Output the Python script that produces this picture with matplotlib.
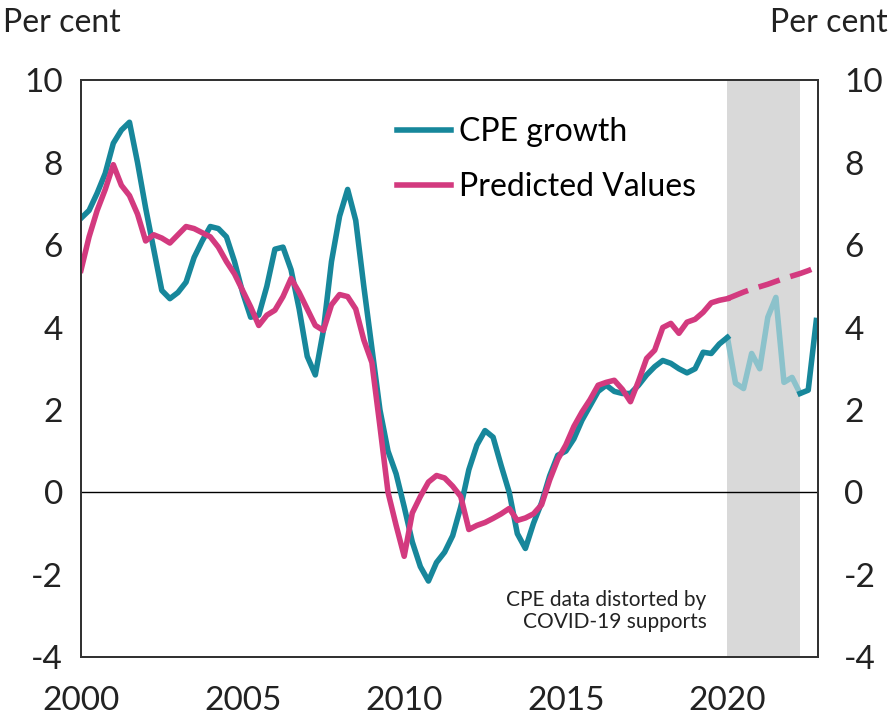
import matplotlib
matplotlib.use("Agg")
import matplotlib.pyplot as plt
import numpy as np

plt.rcParams['font.family'] = ['Lato', 'DejaVu Sans']

start_year = 2000.0
# Quarterly CPE growth, 2000Q1 .. 2022Q4 (per cent)
cpe_growth = [
    6.65, 6.84, 7.26, 7.74, 8.47, 8.79, 8.98, 8.0,
    6.9, 5.9, 4.9, 4.7, 4.85, 5.1, 5.7, 6.1,
    6.45, 6.4, 6.2, 5.6, 4.85, 4.25, 4.3, 5.0,
    5.9, 5.95, 5.4, 4.45, 3.3, 2.85, 3.93, 5.6,
    6.7, 7.35, 6.6, 5.0, 3.5, 2.0, 1.0, 0.45,
    -0.35, -1.2, -1.8, -2.15, -1.7, -1.45, -1.05, -0.35,
    0.55, 1.15, 1.5, 1.34, 0.65, 0.0, -1.0, -1.36,
    -0.75, -0.25, 0.4, 0.9, 1.0, 1.3, 1.75, 2.1,
    2.45, 2.6, 2.45, 2.4, 2.4, 2.6, 2.85, 3.05,
    3.2, 3.13, 3.0, 2.9, 3.0, 3.4, 3.37, 3.6,
    3.76, 2.65, 2.52, 3.37, 3.0, 4.25, 4.73, 2.67,
    2.79, 2.4, 2.48, 4.17,
]
# Predicted values, 2000Q1 .. 2020Q1 (solid)
predicted = [
    5.39, 6.2, 6.84, 7.35, 7.95, 7.45, 7.2, 6.75,
    6.1, 6.25, 6.17, 6.05, 6.25, 6.45, 6.4, 6.3,
    6.2, 5.95, 5.6, 5.3, 4.9, 4.5, 4.05, 4.3,
    4.42, 4.75, 5.19, 4.85, 4.45, 4.05, 3.93, 4.55,
    4.8, 4.75, 4.45, 3.7, 3.15, 1.6, 0.0, -0.8,
    -1.55, -0.5, -0.1, 0.25, 0.41, 0.35, 0.15, -0.1,
    -0.9, -0.8, -0.73, -0.63, -0.52, -0.39, -0.68, -0.62,
    -0.52, -0.3, 0.3, 0.8, 1.15, 1.6, 1.95, 2.25,
    2.6, 2.67, 2.72, 2.5, 2.2, 2.7, 3.25, 3.45,
    4.0, 4.1, 3.86, 4.13, 4.2, 4.37, 4.6, 4.66,
    4.7,
]
# Predicted values, 2020Q1 .. 2022Q4 (dashed)
predicted_forecast = [4.70, 4.78, 4.86, 4.93, 4.99, 5.05, 5.12, 5.19, 5.25, 5.31, 5.38, 5.46]

covid_start, covid_end = 2020.0, 2022.25
y_ticks = [-4, -2, 0, 2, 4, 6, 8, 10]
x_ticks = [2000, 2005, 2010, 2015, 2020]

teal = '#17879b'
pink = '#d33a7f'
teal_faded = '#8cc2cb'

t_all = start_year + np.arange(len(cpe_growth)) * 0.25
t_pred = start_year + np.arange(len(predicted)) * 0.25
t_fc = t_pred[-1] + np.arange(len(predicted_forecast)) * 0.25

fig = plt.figure(figsize=(8.9, 7.16), dpi=100)
ax = fig.add_axes([0.091, 0.082, 0.828, 0.806])

ax.axvspan(covid_start, covid_end, color='#d9d9d9', lw=0, zorder=0)
ax.axhline(0, color='black', lw=1.0, zorder=1)

i0 = int(round((covid_start - start_year) / 0.25))
i1 = int(round((covid_end - start_year) / 0.25))
lw = 4.0
ax.plot(t_all[i0:i1 + 1], cpe_growth[i0:i1 + 1], color=teal_faded, lw=lw, zorder=2,
        solid_joinstyle='round', solid_capstyle='round')
ax.plot(t_all[:i0 + 1], cpe_growth[:i0 + 1], color=teal, lw=lw, zorder=3,
        solid_joinstyle='round', label='CPE growth')
ax.plot(t_all[i1:], cpe_growth[i1:], color=teal, lw=lw, zorder=3, solid_joinstyle='round')
ax.plot(t_pred, predicted, color=pink, lw=lw, zorder=4, solid_joinstyle='round',
        label='Predicted Values')
ax.plot(t_fc, predicted_forecast, color=pink, lw=lw, zorder=4, ls=(0, (4.0, 2.0)),
        dash_capstyle='butt')

ax.set_xlim(2000, 2022.8)
ax.set_ylim(-4, 10)
ax.set_yticks(y_ticks)
ax.set_xticks(x_ticks)
ax.set_yticklabels([str(v) for v in y_ticks])
ax.tick_params(axis='both', length=0, labelsize=24, colors='#222222')
ax.tick_params(axis='y', pad=13)
ax.tick_params(axis='x', pad=21)

axr = ax.twinx()
axr.set_ylim(-4, 10)
axr.set_yticks(y_ticks)
axr.set_yticklabels([str(v) for v in y_ticks])
axr.tick_params(axis='y', length=0, labelsize=24, colors='#222222', pad=19)

for a in (ax, axr):
    for s in a.spines.values():
        s.set_color('#333333')
        s.set_linewidth(1.4)

fig.text(0.003, 0.968, 'Per cent', fontsize=23, ha='left', va='center', color='#222222')
fig.text(0.997, 0.968, 'Per cent', fontsize=23, ha='right', va='center', color='#222222')

leg = ax.legend(loc='upper left', bbox_to_anchor=(0.39, 0.986), frameon=False,
                fontsize=23, handlelength=1.7, handletextpad=0.25, labelspacing=0.78)

ax.text(2019.35, -2.88, 'CPE data distorted by\nCOVID-19 supports', fontsize=15,
        ha='right', va='center', color='#222222', linespacing=1.15)

fig.savefig('out.png', dpi=100)
